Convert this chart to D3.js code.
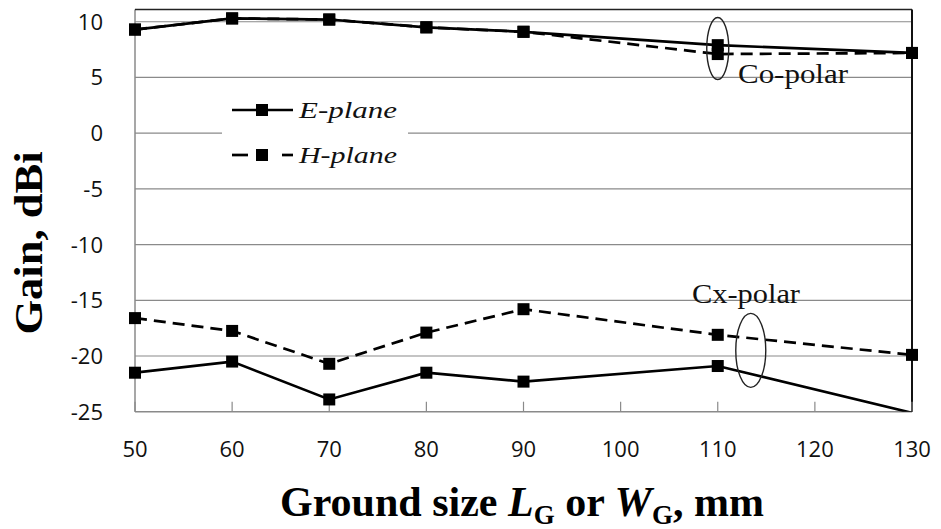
<!DOCTYPE html>
<html>
<head>
<meta charset="utf-8">
<script src="https://cdn.jsdelivr.net/npm/d3@7"></script>
<style>
  html, body { margin: 0; padding: 0; background: #fff; }
  svg { display: block; }
</style>
</head>
<body>
<svg id="chart" width="941" height="529"></svg>
<script>
// Ground size (mm) at which gain was simulated
const groundSizes = [50, 60, 70, 80, 90, 110, 130];

// Co-polar gain, dBi
const coPolarE = [9.3, 10.3, 10.2, 9.5, 9.1, 7.9, 7.2];
const coPolarH = [9.3, 10.3, 10.2, 9.5, 9.1, 7.1, 7.2];

// Cross-polar gain, dBi
const cxPolarE = [-21.5, -20.5, -23.9, -21.5, -22.3, -20.9, -25.1];
const cxPolarH = [-16.6, -17.75, -20.7, -17.9, -15.8, -18.1, -19.9];

// Axis ticks
const xTicks = [50, 60, 70, 80, 90, 100, 110, 120, 130];
const yTicks = [-25, -20, -15, -10, -5, 0, 5, 10];

const seriesNames = ["E-plane", "H-plane"];
const dashed = "12,7";
const series = [
  { plane: "E", values: coPolarE, dash: null },
  { plane: "H", values: coPolarH, dash: dashed },
  { plane: "E", values: cxPolarE, dash: null },
  { plane: "H", values: cxPolarH, dash: dashed }
];

const svg = d3.select("#chart");
const plot = { left: 135, right: 912, top: 9.5, bottom: 411.7 };
const yMin = -25, yMax = 11.1;

const x = d3.scaleLinear().domain([50, 130]).range([plot.left, plot.right]);
const y = d3.scaleLinear().domain([yMin, yMax]).range([plot.bottom, plot.top]);

const gridColor = "#8a8a8a";

// Clip region for the data lines
svg.append("defs").append("clipPath").attr("id", "plotClip")
  .append("rect")
  .attr("x", plot.left).attr("y", plot.top)
  .attr("width", plot.right - plot.left).attr("height", plot.bottom - plot.top);

// Horizontal gridlines
svg.append("g").selectAll("line").data(yTicks.filter(v => v > yMin)).join("line")
  .attr("x1", plot.left).attr("x2", plot.right)
  .attr("y1", d => y(d)).attr("y2", d => y(d))
  .attr("stroke", gridColor).attr("stroke-width", 1.2);

// Legend backdrop interrupts the gridline underneath
const legend = { x: 232, y: 110, rowGap: 45 };
svg.append("rect")
  .attr("x", 222).attr("y", 90).attr("width", 186).attr("height", 84)
  .attr("fill", "#fff");

// Axis lines (left and bottom) and plot frame (top and right)
svg.append("line")
  .attr("x1", plot.left).attr("x2", plot.left).attr("y1", plot.top).attr("y2", plot.bottom)
  .attr("stroke", gridColor).attr("stroke-width", 1.5);
svg.append("line")
  .attr("x1", plot.left).attr("x2", plot.right).attr("y1", plot.bottom).attr("y2", plot.bottom)
  .attr("stroke", gridColor).attr("stroke-width", 1.5);
svg.append("line")
  .attr("x1", plot.left).attr("x2", plot.right).attr("y1", plot.top).attr("y2", plot.top)
  .attr("stroke", "#222").attr("stroke-width", 1.5);
svg.append("line")
  .attr("x1", plot.right).attr("x2", plot.right).attr("y1", plot.top).attr("y2", plot.bottom)
  .attr("stroke", "#111").attr("stroke-width", 2);

// Inward tick marks on the x axis
svg.append("g").selectAll("line").data(xTicks).join("line")
  .attr("x1", d => x(d)).attr("x2", d => x(d))
  .attr("y1", plot.bottom).attr("y2", plot.bottom - 10)
  .attr("stroke", gridColor).attr("stroke-width", 1.2);

// Tick labels
const tickFont = "'Open Sans', 'Noto Sans', sans-serif";
svg.append("g").selectAll("text").data(xTicks).join("text")
  .attr("x", d => x(d)).attr("y", 457)
  .attr("text-anchor", "middle")
  .attr("font-family", tickFont).attr("font-size", 22).attr("fill", "#111")
  .text(d => d);
svg.append("g").selectAll("text").data(yTicks).join("text")
  .attr("x", 103).attr("y", d => y(d) + 8)
  .attr("text-anchor", "end")
  .attr("font-family", tickFont).attr("font-size", 22).attr("fill", "#111")
  .text(d => d);

// Data lines
const line = d3.line().x(d => x(d.g)).y(d => y(d.v));
const lineLayer = svg.append("g").attr("clip-path", "url(#plotClip)");
series.forEach(s => {
  const pts = groundSizes.map((g, i) => ({ g, v: s.values[i] }));
  lineLayer.append("path").datum(pts)
    .attr("d", line)
    .attr("fill", "none").attr("stroke", "#000")
    .attr("stroke-width", 2.7)
    .attr("stroke-dasharray", s.dash);
});

// Square markers (points outside the value range are not drawn)
const mk = 12;
series.forEach(s => {
  const pts = groundSizes.map((g, i) => ({ g, v: s.values[i] })).filter(d => d.v >= yMin);
  svg.append("g").selectAll("rect").data(pts).join("rect")
    .attr("x", d => x(d.g) - mk / 2).attr("y", d => y(d.v) - mk / 2)
    .attr("width", mk).attr("height", mk).attr("fill", "#000");
});

// Legend
seriesNames.forEach((name, i) => {
  const ly = legend.y + i * legend.rowGap;
  const g = svg.append("g");
  if (i === 0) {
    g.append("line").attr("x1", legend.x).attr("x2", legend.x + 61)
      .attr("y1", ly).attr("y2", ly).attr("stroke", "#000").attr("stroke-width", 2.7);
  } else {
    [[legend.x, legend.x + 16], [legend.x + 50, legend.x + 61]].forEach(([a, b]) => {
      g.append("line").attr("x1", a).attr("x2", b)
        .attr("y1", ly).attr("y2", ly).attr("stroke", "#000").attr("stroke-width", 2.7);
    });
  }
  g.append("rect").attr("x", legend.x + 30 - mk / 2).attr("y", ly - mk / 2)
    .attr("width", mk).attr("height", mk).attr("fill", "#000");
  g.append("text")
    .attr("x", legend.x + 67).attr("y", ly + 8)
    .attr("font-family", "'Liberation Serif', 'Times New Roman', serif")
    .attr("font-style", "italic").attr("font-size", 24).attr("fill", "#111")
    .attr("textLength", 98).attr("lengthAdjust", "spacingAndGlyphs")
    .text(name);
});

// Polarisation annotations
const serif = "'Liberation Serif', 'Times New Roman', serif";
svg.append("ellipse")
  .attr("cx", x(110)).attr("cy", y(7.6))
  .attr("rx", 11).attr("ry", 31)
  .attr("fill", "none").attr("stroke", "#222").attr("stroke-width", 1.4);
svg.append("text")
  .attr("x", 738).attr("y", 83)
  .attr("font-family", serif).attr("font-size", 27).attr("fill", "#111")
  .attr("textLength", 110).attr("lengthAdjust", "spacingAndGlyphs")
  .text("Co-polar");

svg.append("ellipse")
  .attr("cx", x(113.4)).attr("cy", y(-19.5))
  .attr("rx", 15).attr("ry", 37)
  .attr("fill", "none").attr("stroke", "#222").attr("stroke-width", 1.4);
svg.append("text")
  .attr("x", 692).attr("y", 303)
  .attr("font-family", serif).attr("font-size", 27).attr("fill", "#111")
  .attr("textLength", 108).attr("lengthAdjust", "spacingAndGlyphs")
  .text("Cx-polar");

// Axis titles
svg.append("text")
  .attr("transform", "translate(42,243) rotate(-90)")
  .attr("text-anchor", "middle")
  .attr("font-family", serif).attr("font-weight", "bold").attr("font-size", 40).attr("fill", "#000")
  .attr("textLength", 183).attr("lengthAdjust", "spacingAndGlyphs")
  .text("Gain, dBi");

const xt = svg.append("text")
  .attr("x", 522).attr("y", 516)
  .attr("text-anchor", "middle")
  .attr("font-family", serif).attr("font-weight", "bold").attr("font-size", 42).attr("fill", "#000");
xt.append("tspan").text("Ground size ");
xt.append("tspan").attr("font-style", "italic").text("L");
xt.append("tspan").attr("font-size", 27).attr("dy", 8).text("G");
xt.append("tspan").attr("dy", -8).text(" or ");
xt.append("tspan").attr("font-style", "italic").text("W");
xt.append("tspan").attr("font-size", 27).attr("dy", 8).text("G");
xt.append("tspan").attr("dy", -8).text(", mm");
</script>
</body>
</html>
